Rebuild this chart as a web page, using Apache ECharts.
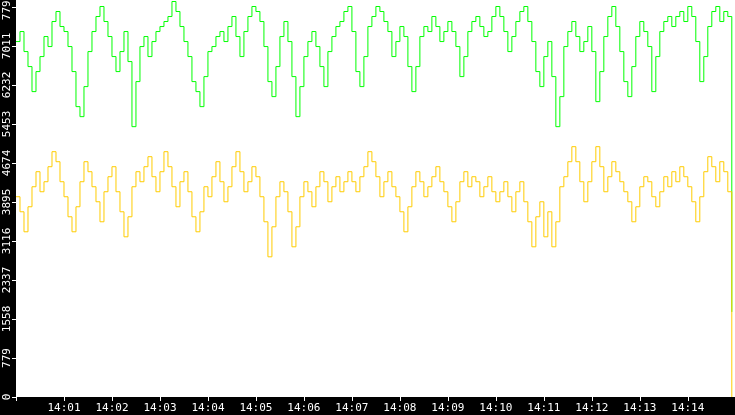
<!DOCTYPE html>
<html><head><meta charset="utf-8">
<script src="https://cdn.jsdelivr.net/npm/echarts@6/dist/echarts.min.js"></script>
<style>html,body{margin:0;background:#000}#c{width:735px;height:415px}</style>
</head><body><div id="c"></div>
<script>
const startTime = "2024-01-01T14:00:00";
const stepSeconds = 5;
const greenValues = [
7100,7300,6900,6600,6100,6500,6800,7200,7000,7500,7700,7400,
7300,7000,6500,5800,5600,6200,6900,7300,7600,7800,7500,7200,
6800,6500,6900,7300,6700,5400,6300,7000,7200,6800,7100,7300,
7400,7500,7600,7900,7700,7400,7100,6800,6300,6100,5800,6400,
6900,7000,7200,7300,7100,7400,7600,7200,6800,7300,7600,7800,
7700,7500,7000,6300,6000,6600,7200,7500,7100,6400,5600,6200,
6800,7100,7300,7000,6600,6200,6900,7200,7400,7500,7700,7800,
7300,6500,6200,6800,7400,7600,7800,7700,7500,7300,6800,7100,
7400,7200,6600,6100,6600,7200,7400,7300,7600,7400,7100,7300,
7500,7300,7000,6400,6800,7300,7500,7600,7400,7200,7300,7600,
7800,7600,7300,6900,7200,7500,7700,7800,7500,7100,6500,6200,
6800,7100,6400,5400,6000,7000,7300,7500,7200,6900,7100,7400,
6900,5900,6500,7200,7600,7800,7400,6900,6300,6000,6600,7200,
7500,7300,7000,6100,6800,7300,7500,7600,7400,7600,7700,7500,
7800,7600,7100,6300,6800,7400,7700,7800,7500,7700,7600,1700];
const yellowValues = [
4000,3700,3300,3800,4200,4500,4100,4300,4600,4900,4700,4300,
4000,3600,3300,3800,4300,4700,4500,4200,3900,3500,4100,4400,
4600,4100,3700,3200,3600,4200,4500,4300,4600,4800,4400,4100,
4500,4900,4600,4200,3800,4300,4500,4100,3600,3300,3700,4200,
4000,4400,4700,4300,3900,4200,4600,4900,4500,4100,4300,4600,
4400,4000,3500,2800,3400,4000,4300,4100,3700,3000,3400,4000,
4300,4100,3800,4200,4500,4300,3900,4200,4400,4100,4300,4500,
4300,4100,4400,4600,4900,4700,4400,4000,4300,4500,4200,4000,
3700,3300,3800,4200,4500,4300,4000,4200,4400,4600,4300,4100,
3800,3500,3900,4300,4500,4200,4400,4300,4000,4200,4400,4100,
3900,4100,4300,4000,3700,4100,4300,3900,3500,3000,3600,3900,
3200,3700,3000,3500,4200,4400,4700,5000,4700,4300,3900,4300,
4700,5000,4600,4100,4400,4700,4500,4300,4100,3900,3500,3800,
4200,4400,4300,4000,3800,4100,4400,4200,4500,4300,4600,4400,
4200,3900,3500,4000,4500,4800,4600,4300,4700,4500,4100,0];
const yTickStep = 779.1;

const t0 = new Date(startTime).getTime();
const toPairs = v => v.map((y,i)=>[t0 + i*stepSeconds*1000, y]);
const chart = echarts.init(document.getElementById('c'));
const pad = n => String(n).padStart(2,'0');
chart.setOption({
  animation:false,
  backgroundColor:'#000',
  grid:{left:16,right:0,top:0,bottom:18,show:true,backgroundColor:'#fff',borderWidth:0,
    containLabel:false,outerBoundsMode:'none'},
  xAxis:{type:'time',min:t0,max:t0+15*60000-1000,interval:60000,minInterval:60000,maxInterval:60000,
    axisLine:{show:false},splitLine:{show:false},
    axisTick:{show:true,length:4,lineStyle:{color:'#fff'}},
    axisLabel:{color:'#fff',fontFamily:'DejaVu Sans Mono',fontSize:11,margin:6,interval:0,hideOverlap:false,
      formatter:v=>{const d=new Date(v);if(v===t0)return '';return pad(d.getHours())+':'+pad(d.getMinutes());}}},
  yAxis:{type:'value',min:0,max:7930,interval:yTickStep,
    axisLine:{show:false},splitLine:{show:false},
    axisTick:{show:true,length:4,lineStyle:{color:'#fff'}},
    axisLabel:{color:'#fff',fontFamily:'DejaVu Sans Mono',fontSize:11,rotate:90,margin:3,
      formatter:v=>String(Math.floor(v+0.01))}},
  series:[
    {type:'line',step:'end',showSymbol:false,data:toPairs(greenValues),lineStyle:{color:'#00ff00',width:1}},
    {type:'line',step:'end',showSymbol:false,data:toPairs(yellowValues),lineStyle:{color:'#ffcc00',width:1}}
  ]
});
</script></body></html>
